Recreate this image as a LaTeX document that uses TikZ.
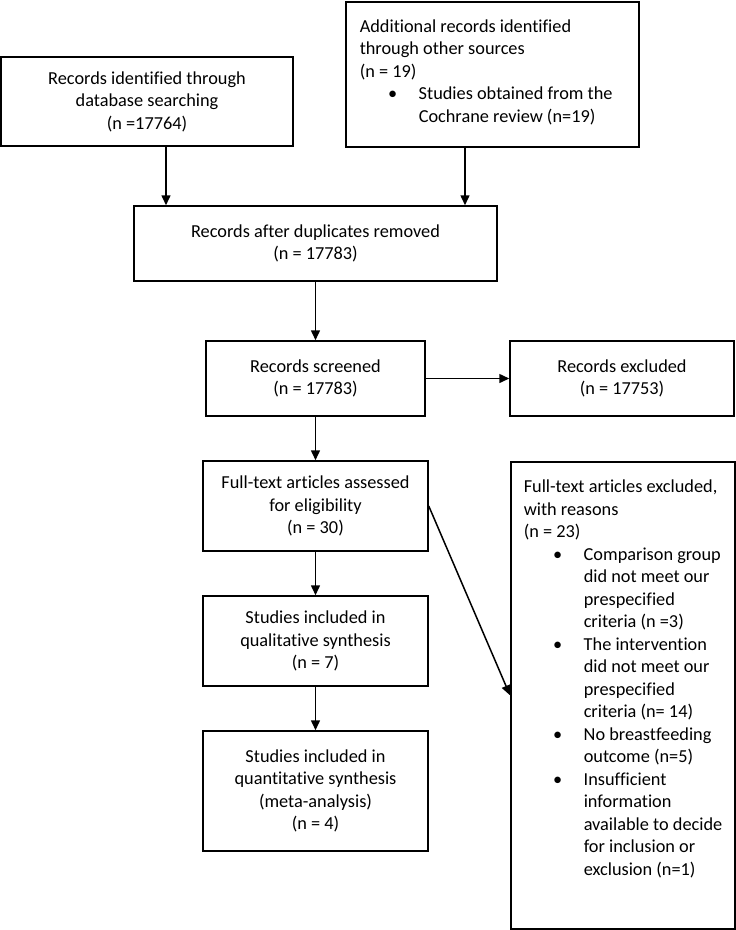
\documentclass[tikz,border=0pt]{standalone}
\usepackage{fontspec}
\setmainfont{Carlito}[Ligatures={NoCommon}]
\usetikzlibrary{arrows.meta}
\begin{document}
\begin{tikzpicture}[x=1pt,y=-1pt,
  box/.style={draw=black, line width=1.5pt, inner sep=0pt, align=center,
    font=\fontsize{18.3}{22.5}\selectfont, text=black},
  arr/.style={draw=black, line width=1.5pt, -{Triangle[length=10pt,width=9pt]}}]
\useasboundingbox (0,0) rectangle (736,930);
\fill[white] (0,0) rectangle (736,930);

\node[box, minimum width=292pt, minimum height=89pt] (db) at (147,101.5)
  {Records identified through\\database searching\\(n =17764)};

\node[box, anchor=north west, minimum width=293pt, minimum height=145pt] (other) at (345,1)
  {\parbox[c][145pt][t]{293pt}{\raggedright\leftskip=14pt\relax
   \vspace*{14.75pt}\strut Additional records identified\\
   through other sources\\
   (n = 19)\\
   \hspace*{33pt}\makebox[0pt]{\textbullet}\hspace*{26pt}Studies obtained from the\\
   \hspace*{59pt}Cochrane review (n=19)}};

\node[box, minimum width=363pt, minimum height=75pt] (dup) at (315.5,243.5)
  {Records after duplicates removed\\(n = 17783)};

\node[box, minimum width=219pt, minimum height=75pt] (screen) at (315.5,378.5)
  {Records screened\\(n = 17783)};

\node[box, minimum width=224pt, minimum height=75pt] (excl) at (622,378.5)
  {Records excluded\\(n = 17753)};

\node[box, minimum width=225pt, minimum height=90pt] (full) at (315.5,506)
  {Full-text articles assessed\\for eligibility\\(n = 30)};

\node[box, minimum width=225pt, minimum height=90pt] (qual) at (315.5,641)
  {Studies included in\\qualitative synthesis\\(n = 7)};

\node[box, minimum width=225pt, minimum height=120pt] (quant) at (315.5,791)
  {Studies included in\\quantitative synthesis\\(meta-analysis)\\(n = 4)};

\node[box, anchor=north west, minimum width=224pt, minimum height=467pt] (fexcl) at (510,461)
  {\parbox[c][467pt][t]{224pt}{\raggedright\leftskip=13pt\relax
   \vspace*{15.25pt}\strut Full-text articles excluded,\\
   with reasons\\
   (n = 23)\\
   \hspace*{34pt}\makebox[0pt]{\textbullet}\hspace*{26pt}Comparison group\\
   \hspace*{60pt}did not meet our\\
   \hspace*{60pt}prespecified\\
   \hspace*{60pt}criteria (n =3)\\
   \hspace*{34pt}\makebox[0pt]{\textbullet}\hspace*{26pt}The intervention\\
   \hspace*{60pt}did not meet our\\
   \hspace*{60pt}prespecified\\
   \hspace*{60pt}criteria (n= 14)\\
   \hspace*{34pt}\makebox[0pt]{\textbullet}\hspace*{26pt}No breastfeeding\\
   \hspace*{60pt}outcome (n=5)\\
   \hspace*{34pt}\makebox[0pt]{\textbullet}\hspace*{26pt}Insufficient\\
   \hspace*{60pt}information\\
   \hspace*{60pt}available to decide\\
   \hspace*{60pt}for inclusion or\\
   \hspace*{60pt}exclusion (n=1)}};

\coordinate (c1) at (166,0);
\coordinate (c2) at (465,0);
\draw[arr] (db.south -| c1) -- (dup.north -| c1);
\draw[arr] (other.south -| c2) -- (dup.north -| c2);
\draw[arr] (dup.south) -- (screen.north);
\draw[arr] (screen.east) -- (excl.west);
\draw[arr] (screen.south) -- (full.north);
\draw[arr] (full.south) -- (qual.north);
\draw[arr] (qual.south) -- (quant.north);
\draw[arr] (full.east) -- (fexcl.west);
\end{tikzpicture}
\end{document}
